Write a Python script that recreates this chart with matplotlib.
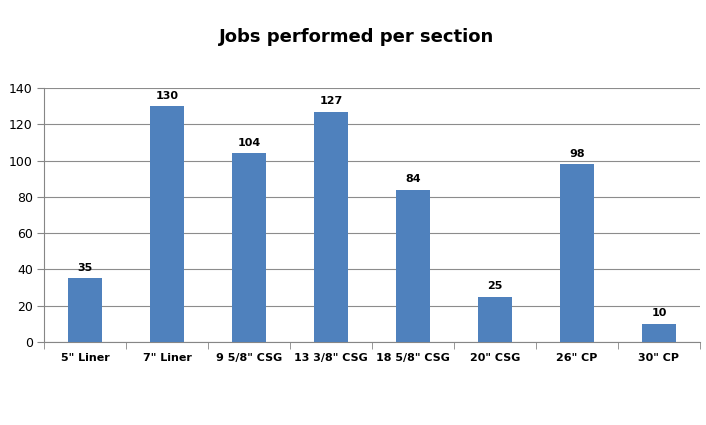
import matplotlib
matplotlib.use('Agg')
import matplotlib.pyplot as plt
import numpy as np

categories = ['5" Liner', '7" Liner', '9 5/8" CSG', '13 3/8" CSG',
              '18 5/8" CSG', '20" CSG', '26" CP', '30" CP']
jobs = [35, 130, 104, 127, 84, 25, 98, 10]
yticks = [0, 20, 40, 60, 80, 100, 120, 140]

fig = plt.figure(figsize=(7.06, 4.25), dpi=100)
ax = fig.add_axes([0.0623, 0.1953, 0.9292, 0.5977])

x = np.arange(len(categories))
bars = ax.bar(x, jobs, width=0.41, color='#4F81BD', zorder=3)
for xi, v in zip(x, jobs):
    ax.text(xi, v + 3, str(v), ha='center', va='bottom',
            fontsize=8, fontweight='bold')

ax.set_xlim(-0.5, len(categories) - 0.5)
ax.set_ylim(0, 140)
ax.set_yticks(yticks)
ax.set_xticks(x)
ax.set_xticklabels(categories, fontsize=8, fontweight='bold')
ax.set_xticks(np.arange(len(categories) + 1) - 0.5, minor=True)
ax.tick_params(axis='x', which='major', length=0, pad=8)
ax.tick_params(axis='x', which='minor', length=5, color='#868686')
ax.tick_params(axis='y', length=5, color='#868686', labelsize=9, pad=3)

ax.grid(axis='y', color='#8c8c8c', linewidth=0.8, zorder=0)
for s in ['top', 'right']:
    ax.spines[s].set_visible(False)
for s in ['left', 'bottom']:
    ax.spines[s].set_color('#868686')

fig.text(0.505, 0.913, 'Jobs performed per section', ha='center', va='center',
         fontsize=13, fontweight='bold')

fig.savefig('out.png', dpi=100)
